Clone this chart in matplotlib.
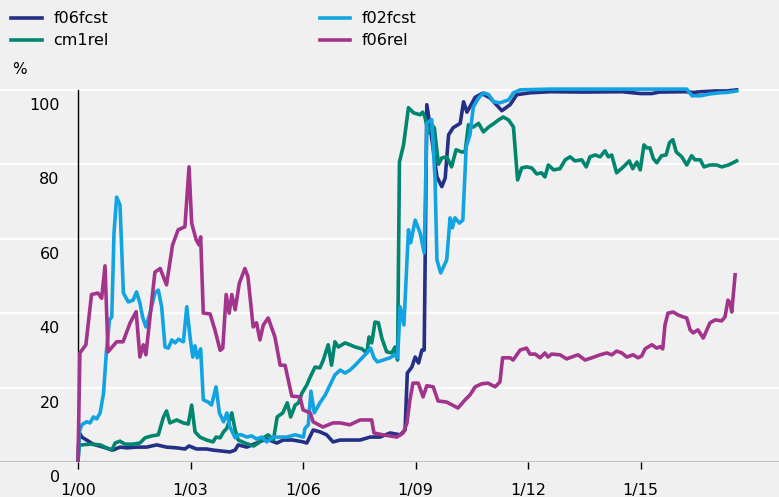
import matplotlib.pyplot as plt
import matplotlib.transforms as mtransforms

# years since 1/00, values in %
f06fcst_t = [0, 0.03, 0.1, 0.23, 0.4, 0.67, 0.93, 1.12, 1.3, 1.56, 1.83, 2.1, 2.36, 2.63, 2.85, 2.96,
             3.16, 3.43, 3.6, 4.05, 4.19, 4.27, 4.5, 4.76, 5.03, 5.3, 5.47, 5.73, 6.0, 6.1, 6.27, 6.45,
             6.63, 6.8, 6.99, 7.25, 7.52, 7.79, 8.05, 8.32, 8.59, 8.72, 8.78, 8.9, 8.99, 9.08, 9.17,
             9.23, 9.3, 9.39, 9.57, 9.7, 9.79, 9.88, 10.0, 10.19, 10.28, 10.37, 10.59, 10.77, 10.99,
             11.3, 11.52, 11.7, 12.05, 12.59, 13.5, 14.5, 15.0, 15.3, 15.5, 16.2, 16.4, 16.6, 17.0,
             17.3, 17.56]
f06fcst_v = [0, 8, 6.7, 5.9, 4.8, 4, 3.2, 4, 3.8, 4, 4, 4.6, 4, 3.8, 3.5, 4.3,
             3.5, 3.5, 3.2, 2.7, 3.2, 4.6, 4, 5.1, 6.2, 5.1, 5.9, 5.9, 5.4, 5.1, 8.6, 8.1,
             7.3, 5.4, 5.9, 5.9, 5.9, 6.7, 6.7, 7.8, 7.3, 8.6, 23.9, 25.5, 28.2, 26.6, 30.1,
             30.1, 96, 90, 76.6, 74, 76.3, 87.9, 89.8, 91, 96.8, 94, 98, 99, 97.8,
             94.4, 96, 98.7, 99.2, 99.5, 99.4, 99.5, 99.0, 99.0, 99.4, 99.5, 99.3, 99.5, 99.7,
             99.7, 100]

f02fcst_t = [0, 0.03, 0.1, 0.23, 0.32, 0.41, 0.5, 0.59, 0.68, 0.76, 0.84, 0.9, 0.96, 1.03, 1.12,
             1.21, 1.34, 1.47, 1.56, 1.65, 1.72, 1.81, 1.92, 2.05, 2.14, 2.23, 2.32, 2.41, 2.5,
             2.59, 2.68, 2.81, 2.9, 2.99, 3.06, 3.12, 3.18, 3.27, 3.34, 3.47, 3.56, 3.68, 3.77,
             3.88, 3.97, 4.05, 4.19, 4.27, 4.36, 4.5, 4.63, 4.76, 4.9, 5.03, 5.21, 5.39, 5.56,
             5.79, 6.01, 6.05, 6.14, 6.21, 6.3, 6.45, 6.59, 6.72, 6.85, 6.99, 7.12, 7.25, 7.39,
             7.52, 7.7, 7.8, 7.89, 7.98, 8.14, 8.32, 8.45, 8.52, 8.59, 8.69, 8.81, 8.87, 8.99,
             9.12, 9.23, 9.3, 9.43, 9.52, 9.57, 9.67, 9.83, 9.92, 9.98, 10.05, 10.17, 10.26,
             10.35, 10.45, 10.54, 10.68, 10.81, 10.95, 11.08, 11.25, 11.48, 11.61, 11.79, 12.6,
             16.23, 16.37, 16.59, 16.85, 17.1, 17.3, 17.56]
f02fcst_v = [0, 8, 10, 10.8, 10.5, 12.1, 11.6, 13.2, 18.5, 30.1, 38.2, 39, 61.6, 71.2, 69,
             45.4, 43, 43.5, 45.7, 42.7, 39, 36.3, 40, 45.4, 46.2, 41.7, 30.9, 30.6, 32.8,
             32, 33, 32.3, 41.7, 33.3, 28.2, 31.2, 28, 30.4, 16.7, 16.1, 15.3, 20.2, 13.2,
             10.8, 13.2, 9.4, 6.5, 7.3, 7.3, 6.7, 7, 6.2, 6.7, 5.4, 6.7, 6.7, 6.7,
             7.3, 6.7, 9, 10, 19, 13.2, 15.9, 18, 20.7, 23.4, 24.7, 23.9, 24.7, 26,
             27.4, 29.3, 30.6, 28, 26.9, 27.4, 28, 28.8, 28, 41.7, 36.8, 62.4, 58.9, 65,
             61.6, 56.2, 91, 92, 75.8, 54.3, 50.8, 54.3, 65.6, 62.9, 65.6, 64.2, 65,
             84.7, 87.9, 95.4, 97.8, 99.2, 98.7, 96.8, 96.5, 97.3, 99.2, 100, 100.2,
             100.2, 98.4, 98.4, 98.9, 99.2, 99.3, 99.7]

cm1rel_t = [0, 0.03, 0.1, 0.32, 0.59, 0.76, 0.9, 0.99, 1.12, 1.25, 1.47, 1.65, 1.79, 1.96, 2.14,
            2.28, 2.36, 2.45, 2.63, 2.81, 2.94, 3.03, 3.12, 3.25, 3.43, 3.6, 3.68, 3.79, 3.88,
            3.97, 4.1, 4.19, 4.27, 4.45, 4.68, 4.81, 4.94, 5.07, 5.21, 5.31, 5.46, 5.58, 5.67,
            5.79, 5.88, 5.97, 6.1, 6.19, 6.32, 6.45, 6.54, 6.67, 6.76, 6.85, 6.94, 7.12, 7.25,
            7.39, 7.57, 7.7, 7.76, 7.83, 7.92, 8.01, 8.1, 8.23, 8.37, 8.45, 8.52, 8.57, 8.68,
            8.81, 8.95, 9.12, 9.19, 9.25, 9.34, 9.43, 9.5, 9.61, 9.7, 9.83, 9.96, 10.08, 10.23,
            10.32, 10.41, 10.54, 10.68, 10.81, 10.95, 11.08, 11.21, 11.34, 11.48, 11.61, 11.72,
            11.83, 11.96, 12.1, 12.23, 12.36, 12.45, 12.54, 12.68, 12.85, 12.99, 13.12, 13.25,
            13.43, 13.55, 13.65, 13.79, 13.92, 14.05, 14.14, 14.23, 14.36, 14.54, 14.7, 14.79,
            14.9, 14.99, 15.09, 15.16, 15.25, 15.34, 15.43, 15.56, 15.68, 15.77, 15.86, 15.95,
            16.1, 16.23, 16.36, 16.45, 16.59, 16.69, 16.85, 17.03, 17.16, 17.34, 17.56]
cm1rel_v = [0, 4.5, 4.6, 4.8, 4.6, 3.8, 3.2, 5.1, 5.6, 4.8, 4.8, 5.1, 6.5, 7, 7.3,
            12.1, 13.7, 10.5, 11.3, 10.5, 10.2, 15.3, 8.1, 6.7, 5.9, 5.4, 6.7, 6.5, 8.1,
            9.1, 13.2, 8.6, 5.9, 5.1, 4.3, 5.1, 6.5, 7.3, 5.9, 12.1, 13.2, 15.9, 12.1,
            15.3, 15.9, 18.5, 20.7, 22.8, 25.5, 25.3, 27.4, 31.5, 26, 32.3, 30.9, 32, 31.5,
            30.9, 30.4, 29.3, 33.6, 32, 37.6, 37.4, 33.3, 29.6, 29.3, 30.9, 27.4, 80.6, 85.2,
            95.2, 93.8, 93.3, 94, 92.7, 88.4, 90.6, 89.8, 80, 81.7, 82, 79.3, 83.9, 83.3,
            83.3, 90.6, 90, 91, 88.7, 90, 90.9, 91.9, 92.7, 91.9, 90, 75.8,
            79, 79.3, 79, 77.4, 77.7, 76.6, 79.8, 78.5, 78.8, 81.2, 82, 80.9,
            81.2, 79.3, 82, 82.5, 82, 83.6, 82, 82.5, 77.7, 79.3, 80.9, 78.8,
            80.6, 78.5, 85.2, 84.4, 84.4, 81.5, 80.4, 82.3, 82.5, 85.8, 86.6, 83.3,
            82, 79.8, 82.3, 81.2, 81.2, 79.3, 79.8, 79.8, 79.3, 79.8, 80.9]

f06rel_t = [0, 0.05, 0.21, 0.36, 0.53, 0.63, 0.72, 0.8, 1.03, 1.2, 1.39, 1.55, 1.65, 1.74, 1.81,
            2.05, 2.19, 2.36, 2.52, 2.67, 2.85, 2.96, 3.03, 3.15, 3.23, 3.27, 3.34, 3.52, 3.65,
            3.79, 3.86, 3.95, 4.03, 4.1, 4.19, 4.3, 4.45, 4.53, 4.67, 4.76, 4.85, 4.94, 5.07,
            5.25, 5.39, 5.52, 5.7, 5.92, 6.0, 6.19, 6.27, 6.53, 6.8, 6.99, 7.25, 7.52, 7.7,
            7.83, 7.89, 8.13, 8.5, 8.67, 8.77, 8.85, 8.93, 9.07, 9.2, 9.3, 9.47, 9.6, 9.83,
            10.13, 10.32, 10.45, 10.59, 10.76, 10.93, 11.12, 11.25, 11.32, 11.52, 11.6, 11.79,
            11.96, 12.05, 12.19, 12.32, 12.45, 12.53, 12.63, 12.85, 13.03, 13.16, 13.33, 13.52,
            13.7, 13.92, 14.1, 14.23, 14.36, 14.5, 14.63, 14.8, 14.93, 15.03, 15.12, 15.3,
            15.43, 15.52, 15.59, 15.65, 15.73, 15.87, 16.0, 16.13, 16.23, 16.32, 16.4, 16.53,
            16.67, 16.85, 16.99, 17.16, 17.25, 17.33, 17.39, 17.43, 17.52]
f06rel_v = [0, 29.3, 31.5, 45, 45.4, 44, 52.7, 29.6, 32.3, 32.3, 37.4, 40.4, 28.2, 31.5, 28.8,
            51, 52, 47.6, 58.3, 62.4, 63.2, 79.3, 64.2, 59.7, 58.3, 60.5, 40, 39.8, 35.5,
            30, 30.6, 45, 40, 45, 40.9, 48, 52, 49.8, 36.3, 37.4, 32.8, 36.8, 38.7,
            33.6, 26, 26, 17.7, 17.5, 14, 13.2, 10.8, 9.4, 10.5, 10.5, 10, 11.3, 11.3,
            11.3, 7.8, 7.3, 6.7, 7.8, 10.5, 16.7, 21.2, 21.2, 17.5, 20.5, 20.2, 16.4, 16.1,
            14.5, 16.7, 18, 20.2, 21, 21.2, 20.2, 21.5, 28, 28, 27.4, 30.1,
            30.6, 29, 29, 28, 29.3, 28.2, 29, 28.8, 27.7, 28.2, 28.8, 27.4,
            28, 28.8, 29.3, 28.8, 29.8, 29.3, 28.2, 28.8, 28, 28.5, 30.4, 31.5,
            30.6, 31, 30.4, 36.8, 40, 40.3, 39.5, 39, 38.7, 35.5, 34.7, 35.5,
            33.3, 37.4, 38.2, 37.9, 39, 43.5, 42.7, 40.3, 50.3]

xtick_pos = [0, 3, 6, 9, 12, 15]
xtick_labels = ['1/00', '1/03', '1/06', '1/09', '1/12', '1/15']
ytick_pos = [0, 20, 40, 60, 80, 100]

bg = '#f0f0f0'
plt.rcParams['font.family'] = ['DejaVu Sans']

fig = plt.figure(figsize=(7.79, 4.97), dpi=100, facecolor=bg)
ax = fig.add_axes([0, 35 / 497, 1, 377 / 497], facecolor=bg)

# grille blanche + axes noirs
for y in ytick_pos[1:]:
    ax.axhline(y, color='white', lw=1.6, zorder=0)
ax.axhline(0, color='black', lw=1, zorder=1)
ax.axvline(0, ymin=0, ymax=100 / 101.3, color='black', lw=1, zorder=1)

lw = 2.6
ax.plot(f06fcst_t, f06fcst_v, color='#233085', lw=lw, label='f06fcst', zorder=3)
ax.plot(cm1rel_t, cm1rel_v, color='#00856e', lw=lw, label='cm1rel', zorder=3)
ax.plot(f02fcst_t, f02fcst_v, color='#12a4e2', lw=lw, label='f02fcst', zorder=3)
ax.plot(f06rel_t, f06rel_v, color='#a3348b', lw=lw, label='f06rel', zorder=3)

ax.set_xlim(-2.08, 18.69)
ax.set_ylim(0, 101.3)
for s in ax.spines.values():
    s.set_visible(False)

ax.set_xticks(xtick_pos)
ax.set_xticklabels(xtick_labels)
ax.tick_params(axis='x', length=5, width=1, color='black', pad=10, labelsize=11.5)

ax.set_yticks(ytick_pos)
ax.set_yticklabels([str(v) for v in ytick_pos])
ax.tick_params(axis='y', length=0, pad=-43, labelsize=11.5)
shift = mtransforms.ScaledTranslation(0, -14 / 100, fig.dpi_scale_trans)
for lab in ax.get_yticklabels():
    lab.set_transform(lab.get_transform() + shift)

fig.legend(loc='upper left', bbox_to_anchor=(0.0, 1.0), ncol=2, frameon=False,
           fontsize=11.5, handlelength=1.9, handletextpad=0.75, columnspacing=13.2,
           labelspacing=0.44, borderaxespad=0.3)
fig.text(12 / 779, 1 - 70 / 497, '%', fontsize=11, va='center', ha='left')

fig.savefig('out.png', dpi=100, facecolor=bg)
